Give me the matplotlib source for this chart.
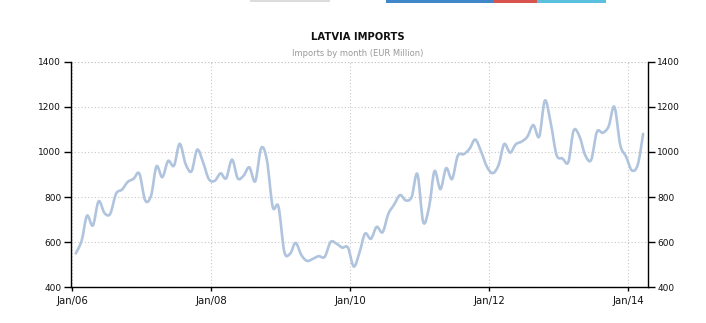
import matplotlib
matplotlib.use('Agg')
import matplotlib.pyplot as plt
import matplotlib.dates as mdates
import matplotlib.patches as mpatches
from matplotlib.path import Path
import numpy as np
import pandas as pd

# monthly imports, Jan 2006 .. Mar 2014 (EUR million)
start_month = '2006-01-01'
imports = [550, 607, 717, 674, 781, 729, 726, 815, 833, 867, 881, 904,
           785, 807, 936, 888, 960, 939, 1036, 947, 914, 1010, 954, 880,
           872, 905, 883, 966, 883, 895, 932, 870, 1017, 965, 756, 758,
           557, 550, 597, 542, 517, 527, 538, 535, 601, 594, 576, 576,
           492, 558, 638, 615, 668, 644, 725, 767, 809, 785, 801, 902,
           688, 759, 915, 835, 928, 880, 983, 990, 1014, 1055, 1001, 935,
           906, 943, 1035, 997, 1034, 1046, 1068, 1119, 1068, 1228, 1126, 987,
           971, 955, 1095, 1068, 985, 965, 1089, 1085, 1114, 1200, 1030, 980,
           918, 944, 1080]
tick_years = ['2006', '2008', '2010', '2012', '2014']
y_ticks = [400, 600, 800, 1000, 1200, 1400]

title = 'LATVIA IMPORTS'
subtitle = 'Imports by month (EUR Million)'

# points sit a bit after the start of each month
dates = pd.date_range(start_month, periods=len(imports), freq='MS') + pd.Timedelta(days=18)
df = pd.DataFrame({'date': dates, 'imports': imports})


def spline_path(x, y):
    # smooth line through every point (catmull-rom as cubic bezier segments)
    pts = np.column_stack([x, y])
    ext = np.vstack([pts[0], pts, pts[-1]])
    verts = [pts[0]]
    codes = [Path.MOVETO]
    for i in range(1, len(ext) - 2):
        p0, p1, p2, p3 = ext[i - 1], ext[i], ext[i + 1], ext[i + 2]
        verts += [p1 + (p2 - p0) / 6, p2 - (p3 - p1) / 6, p2]
        codes += [Path.CURVE4] * 3
    return Path(verts, codes)


fig = plt.figure(figsize=(7.06, 3.23), dpi=100)
ax = fig.add_axes([71 / 706, 1 - 287.3 / 323, (647.7 - 71) / 706, (287.3 - 61.7) / 323])

line = mpatches.PathPatch(spline_path(mdates.date2num(df['date']), df['imports'].to_numpy(float)),
                          facecolor='none', edgecolor='#b0c4de', lw=1.9,
                          joinstyle='round', capstyle='round', zorder=3)
ax.add_patch(line)

# --- ejes ---
ax.set_ylim(400, 1400)
ax.set_yticks(y_ticks)
ax.set_xlim(pd.Timestamp('2005-12-25'), pd.Timestamp('2014-04-12'))
ax.set_xticks([pd.Timestamp(y + '-01-01') for y in tick_years])
ax.xaxis.set_major_formatter(mdates.DateFormatter('%b/%y'))

ax.grid(True, linestyle=(0, (1, 2)), color='#c8c8c8', lw=0.8, zorder=0)
ax.spines['top'].set_visible(False)
for side in ['left', 'right', 'bottom']:
    ax.spines[side].set_color('black')
    ax.spines[side].set_linewidth(1.0)

ax.tick_params(axis='y', left=True, right=True, labelleft=True, labelright=True,
               length=5, width=1, labelsize=6.5, labelcolor='#111', pad=2)
ax.tick_params(axis='x', length=3, width=1, labelsize=7.3, labelcolor='#111', pad=3)

# dotted line along the top (no spine)
ax.axhline(1400, linestyle=(0, (1, 2)), color='#c8c8c8', lw=0.8, zorder=0)

fig.text(358 / 706, 1 - 37.5 / 323, title, ha='center', va='center',
         fontsize=7.2, fontweight='bold', color='#111')
fig.text(358 / 706, 1 - 53.5 / 323, subtitle, ha='center', va='center',
         fontsize=6, color='#999999')

# page decorations at the very top
def top_bar(x0, x1, h, color):
    fig.add_artist(mpatches.Rectangle((x0 / 706, 1 - h / 323), (x1 - x0) / 706, h / 323,
                                      transform=fig.transFigure, facecolor=color,
                                      edgecolor='none'))

top_bar(250, 330, 2, '#dcdcdc')
top_bar(386, 493, 3, '#3f87c9')
top_bar(493, 537, 3, '#d9534f')
top_bar(537, 606, 3, '#5bc0de')

plt.savefig('out.png', dpi=100)
